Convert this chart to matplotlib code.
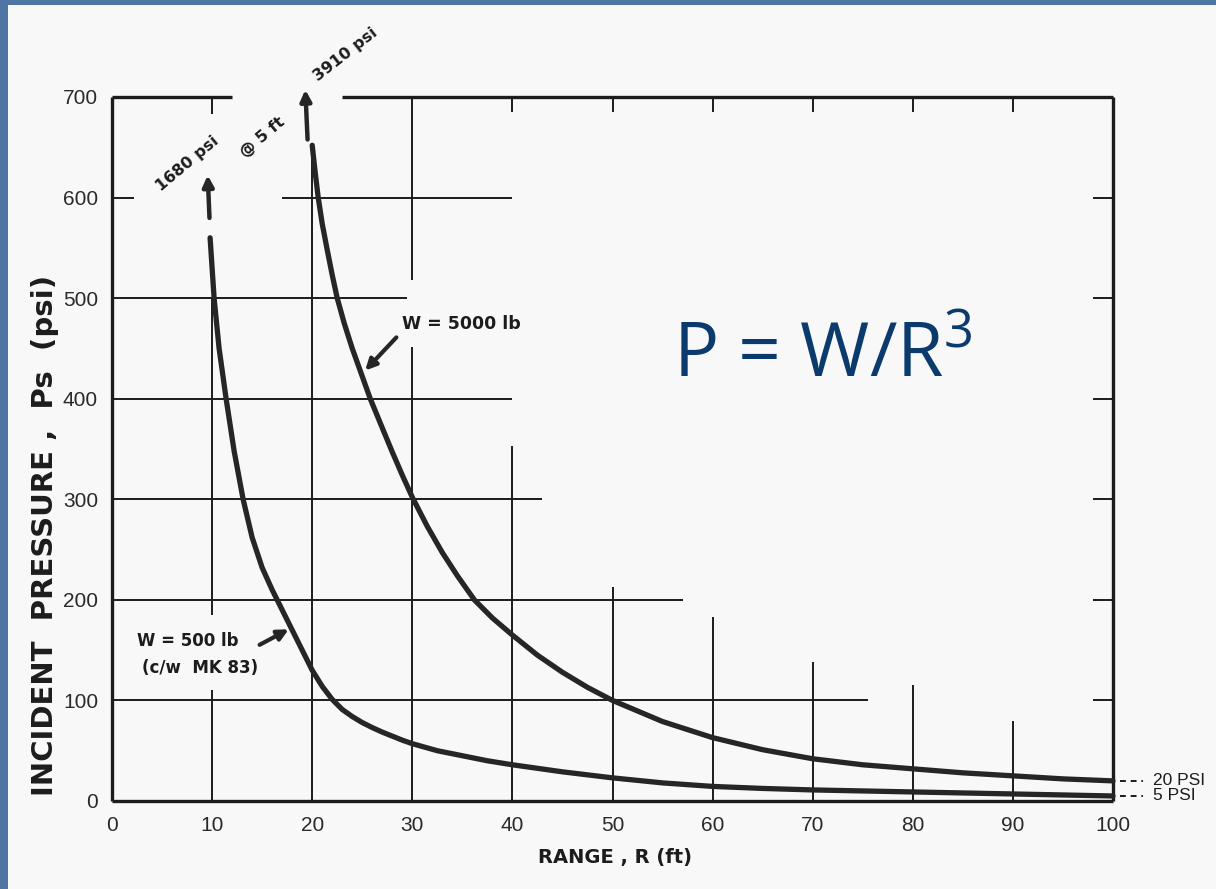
import matplotlib.pyplot as plt
from matplotlib.patches import Rectangle

# incident pressure vs range
range_5000 = [20, 20.3, 20.6, 21, 21.5, 22, 22.5, 23.2, 24, 24.9, 25.8, 27, 28,
              29, 30, 31.5, 33, 34.5, 36.2, 38, 40, 42.5, 45, 47.5, 50, 55,
              60, 65, 70, 75, 80, 85, 90, 95, 100]
psi_5000 = [652, 625, 600, 574, 548, 523, 500, 475, 450, 425, 400, 371, 347,
            324, 302, 273, 247, 224, 200, 182, 165, 145, 128, 113, 100, 79,
            63, 51, 42, 36, 32, 28, 25, 22, 20]

range_500 = [9.8, 10.2, 10.7, 11.4, 12.2, 13.1, 14, 15, 16, 17, 18, 19, 20,
             21, 22, 23, 24, 25, 26, 27, 28, 29, 30, 32.5, 35, 37.5, 40, 45,
             50, 55, 60, 65, 70, 80, 90, 100]
psi_500 = [560, 500, 450, 400, 348, 300, 262, 232, 210, 190, 170, 150, 130,
           114, 101, 91, 84, 78, 73, 68.5, 64.5, 60.5, 57, 50, 45, 40, 36, 29,
           23, 18, 14.5, 12.5, 11, 9, 7, 5]

x_ticks = [0, 10, 20, 30, 40, 50, 60, 70, 80, 90, 100]
y_ticks = [0, 100, 200, 300, 400, 500, 600, 700]

# the hand-drawn grid: horizontal (y, x0, x1) and vertical (x, y0, y1) pieces
h_grid = [(700, 0, 12), (700, 23, 100), (600, 0, 2.2), (600, 17, 40),
          (500, 0, 29.5), (400, 0, 40), (300, 0, 43), (200, 0, 57),
          (100, 0, 75.5), (0, 0, 100)]
h_grid += [(y, 98, 100) for y in [100, 200, 300, 400, 500, 600]]
v_grid = [(0, 0, 700), (100, 0, 700), (10, 0, 110), (10, 185, 500),
          (10, 683, 700), (20, 0, 640), (30, 0, 451), (30, 518, 700),
          (40, 0, 353), (50, 0, 213), (60, 0, 183), (70, 0, 138),
          (80, 0, 115), (90, 0, 80)]
v_grid += [(x, 685, 700) for x in [40, 50, 60, 70, 80, 90]]

ink = '#1c1c1c'
fig = plt.figure(figsize=(12.16, 8.89), dpi=100)
fig.patch.set_facecolor('#4e75a3')
fig.add_artist(Rectangle((8 / 1216, 0), 1, 1 - 5 / 889, transform=fig.transFigure,
                         facecolor='#f8f8f8', edgecolor='none', zorder=0))

ax = fig.add_axes([112 / 1216, 1 - 801 / 889, 1001 / 1216, 704 / 889])
ax.set_facecolor('none')
ax.set_xlim(0, 100)
ax.set_ylim(0, 700)
for s in ax.spines.values():
    s.set_visible(False)

for y, x0, x1 in h_grid:
    lw = 2.4 if y in (0, 700) and x1 - x0 > 5 else 1.4
    ax.plot([x0, x1], [y, y], color=ink, lw=lw, clip_on=False, solid_capstyle='butt')
for x, y0, y1 in v_grid:
    lw = 2.4 if x in (0, 100) else 1.4
    ax.plot([x, x], [y0, y1], color=ink, lw=lw, clip_on=False, solid_capstyle='butt')

ax.plot(range_5000, psi_5000, color='#262626', lw=3.8, clip_on=False,
        solid_capstyle='round', solid_joinstyle='round')
ax.plot(range_500, psi_500, color='#262626', lw=3.8, clip_on=False,
        solid_capstyle='round', solid_joinstyle='round')

ax.set_xticks(x_ticks)
ax.set_yticks(y_ticks)
tick_font = dict(family='Liberation Sans', size=15, color='#2a2a2a')
ax.set_xticklabels([str(v) for v in x_ticks], **tick_font)
ax.set_yticklabels([str(v) for v in y_ticks], **tick_font)
ax.tick_params(length=0)
ax.tick_params(axis='x', pad=11)
ax.tick_params(axis='y', pad=10)

bold = dict(family='DejaVu Sans', weight='bold', color='#1c1c1c')

# off-scale peaks
arrow = dict(arrowstyle='-|>', lw=3.2, color='#262626', mutation_scale=16)
ax.annotate('', xy=(9.55, 625), xytext=(9.75, 577), arrowprops=arrow,
            annotation_clip=False)
ax.annotate('', xy=(19.3, 710), xytext=(19.55, 655), arrowprops=arrow,
            annotation_clip=False)
ax.text(7.5, 634, '1680 psi', rotation=40, ha='center', va='center', size=11.5, **bold)
ax.text(15.0, 660, '@ 5 ft', rotation=40, ha='center', va='center', size=11.5, **bold)
ax.text(23.3, 742, '3910 psi', rotation=38, ha='center', va='center', size=11.5, **bold)

# curve labels
ax.text(29.0, 474, 'W = 5000 lb', ha='left', va='center', size=12.5, **bold)
ax.annotate('', xy=(25.1, 426), xytext=(28.6, 463),
            arrowprops=dict(arrowstyle='-|>', lw=3, color='#262626', mutation_scale=16))
ax.text(2.5, 159, 'W = 500 lb', ha='left', va='center', size=12, **bold)
ax.text(3.0, 132, '(c/w  MK 83)', ha='left', va='center', size=12, **bold)
ax.annotate('', xy=(17.9, 172), xytext=(14.5, 154),
            arrowprops=dict(arrowstyle='-|>', lw=3, color='#262626', mutation_scale=16))

# end values at 100 ft
for v, lab in [(psi_5000[-1], '20 PSI'), (psi_500[-1], '5 PSI')]:
    ax.plot([100.7, 103], [v, v], color=ink, lw=1.4, ls=(0, (3, 2.5)), clip_on=False)
    ax.text(104, v, lab, ha='left', va='center', size=12.5,
            family='Liberation Sans', color='#1c1c1c')

fig.text(45 / 1216, 1 - 535 / 889, 'INCIDENT  PRESSURE ,  Ps  (psi)', rotation=90,
         ha='center', va='center', size=21, **bold)
fig.text(615 / 1216, 1 - 858 / 889, 'RANGE , R (ft)', ha='center', va='center',
         size=14, **bold)

plt.rcParams['mathtext.fontset'] = 'custom'
plt.rcParams['mathtext.rm'] = 'Open Sans'
fig.text(673 / 1216, 1 - 377 / 889, r'P = W/R$^{3}$', ha='left', va='baseline',
         size=54, family='Open Sans', color='#0b3a6d')

fig.savefig('out.png', dpi=100, facecolor=fig.get_facecolor())
